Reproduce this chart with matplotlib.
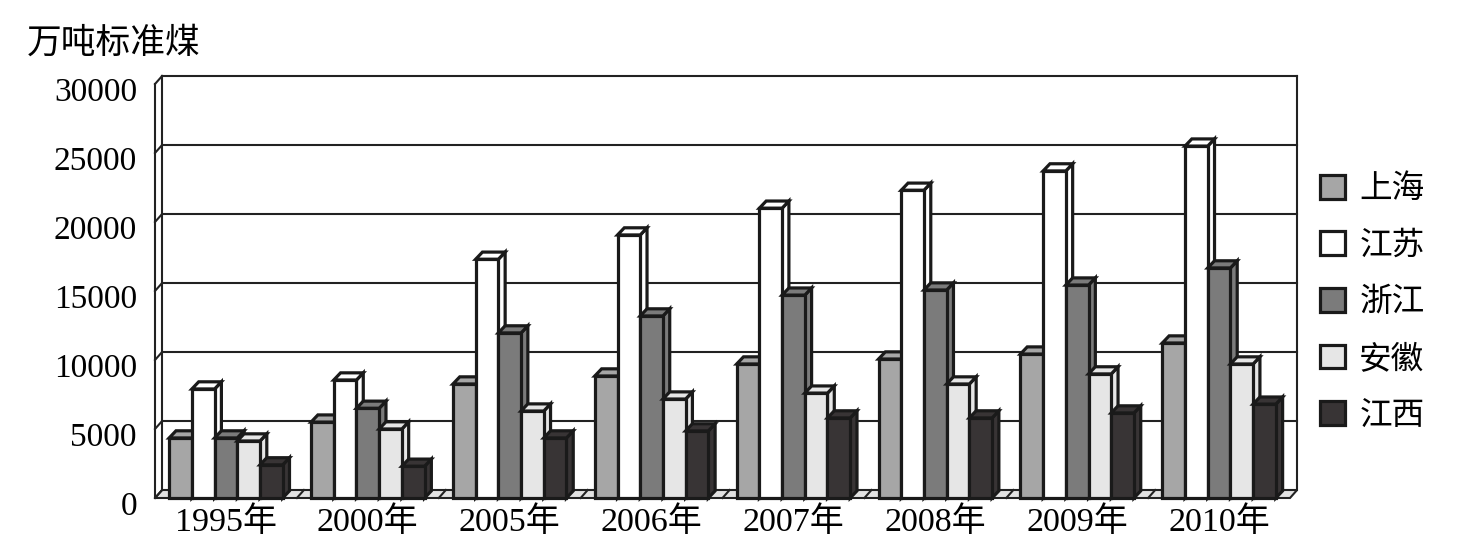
import matplotlib.pyplot as plt
import matplotlib.transforms as mtransforms
from matplotlib.patches import Polygon, Patch

plt.rcParams['font.family'] = ['Liberation Serif', 'Noto Sans CJK SC']

years = ['1995年', '2000年', '2005年', '2006年', '2007年', '2008年', '2009年', '2010年']
regions = ['上海', '江苏', '浙江', '安徽', '江西']
shanghai = [4350, 5500, 8260, 8840, 9710, 10070, 10430, 11230]
jiangsu = [7900, 8550, 17300, 19060, 21000, 22300, 23700, 25500]
zhejiang = [4350, 6500, 11960, 13190, 14700, 15070, 15430, 16670]
anhui = [4130, 5000, 6300, 7170, 7600, 8260, 8990, 9710]
jiangxi = [2400, 2300, 4350, 4860, 5800, 5800, 6160, 6800]
series = [shanghai, jiangsu, zhejiang, anhui, jiangxi]
colors = ['#a6a6a6', '#ffffff', '#7b7b7b', '#e6e6e6', '#383435']
yticks = [0, 5000, 10000, 15000, 20000, 25000, 30000]

W, H = 1468, 559
fig = plt.figure(figsize=(W / 100, H / 100), dpi=100)
ax = fig.add_axes([155 / W, (H - 498) / H, 1135 / W, 414 / H])
n = len(years)
ymax = yticks[-1]
ax.set_xlim(0, n)
ax.set_ylim(0, ymax)
for s in ax.spines.values():
    s.set_visible(False)

# depth offsets of the walls and of the bars (data units)
wdx, wdy = 0.05, 580
bdx, bdy = 0.048, 520
wall = dict(color='#222222', lw=1.5, clip_on=False, zorder=1)

# floor
ax.add_patch(Polygon([(0, 0), (n, 0), (n + wdx, wdy), (wdx, wdy)], closed=True,
                     facecolor='#e2e2e2', edgecolor='#222222', lw=1.5, clip_on=False, zorder=1))
for k in range(1, n):
    ax.plot([k, k + wdx], [0, wdy], **wall)
# left wall and back wall
ax.plot([0, 0], [0, ymax], **wall)
ax.plot([wdx, wdx], [wdy, ymax + wdy], **wall)
ax.plot([n + wdx, n + wdx], [wdy, ymax + wdy], **wall)
for v in yticks:
    ax.plot([0, wdx], [v, v + wdy], **wall)
    if v > 0:
        ax.plot([wdx, n + wdx], [v + wdy, v + wdy], **wall)

# 3D-looking bars: side, top, then front face
bw = 0.16
for k in range(n):
    x0 = k + 0.5 - bw * len(series) / 2
    for i, vals in enumerate(series):
        h = vals[k]
        xl = x0 + i * bw
        xr = xl + bw
        kw = dict(closed=True, facecolor=colors[i], edgecolor='#1a1a1a', lw=2.3,
                  joinstyle='miter', zorder=3, clip_on=False)
        ax.add_patch(Polygon([(xr, 0), (xr + bdx, bdy), (xr + bdx, h + bdy), (xr, h)], **kw))
        ax.add_patch(Polygon([(xl, h), (xr, h), (xr + bdx, h + bdy), (xl + bdx, h + bdy)], **kw))
        ax.add_patch(Polygon([(xl, 0), (xr, 0), (xr, h), (xl, h)], **kw))

ax.set_yticks(yticks)
ax.set_yticklabels([str(v) for v in yticks], fontsize=24)
ax.set_xticks([k + 0.5 for k in range(n)])
ax.set_xticklabels(years, fontsize=24.5)
ax.tick_params(axis='y', length=0, pad=13)
ax.tick_params(axis='x', length=0, pad=6)
# y labels sit a little below the front grid stubs
offset = mtransforms.ScaledTranslation(0, -5 / 100, fig.dpi_scale_trans)
for lab in ax.get_yticklabels():
    lab.set_transform(lab.get_transform() + offset)

fig.text(27 / W, 1 - 44 / H, '万吨标准煤', fontsize=25, ha='left', va='center')

handles = [Patch(facecolor=c, edgecolor='#1a1a1a', lw=2.3) for c in colors]
ax.legend(handles, regions, loc='center left', bbox_to_anchor=(1.015, 0.471),
          frameon=False, fontsize=23.5, handlelength=0.75, handleheight=0.75,
          handletextpad=0.45, labelspacing=0.8, borderaxespad=0)

fig.savefig('out.png', dpi=100)
